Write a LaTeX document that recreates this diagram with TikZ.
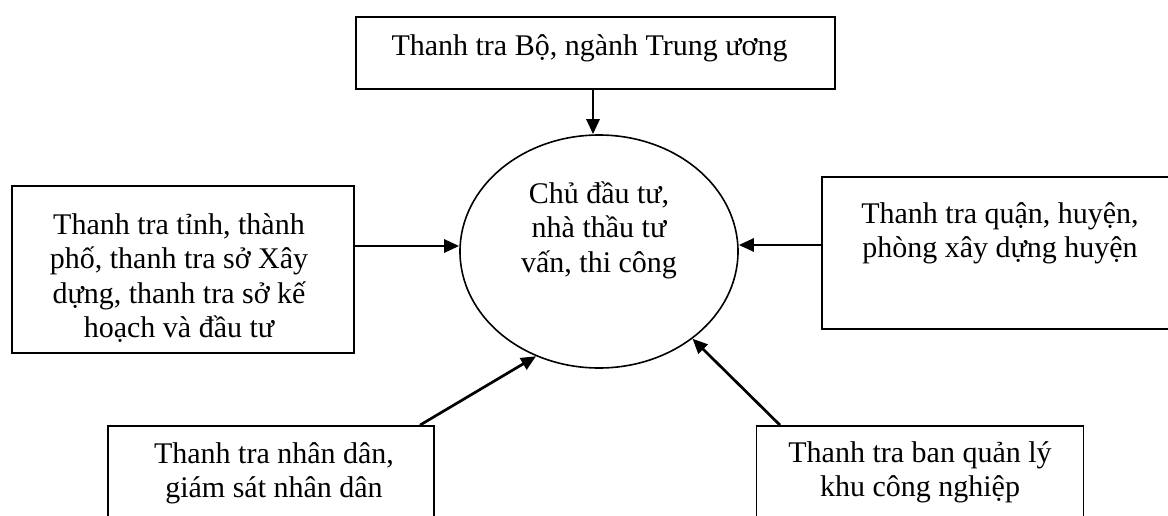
\documentclass[tikz,border=0pt]{standalone}
\usepackage{fontspec}
\setmainfont{Liberation Serif}
\usetikzlibrary{shapes.geometric,arrows.meta}
\newcommand{\stk}[1]{\vtop{\baselineskip=34.5pt\lineskiplimit=-100pt\lineskip=0pt\halign{\hfil##\hfil\cr#1\crcr}}}
\begin{document}
\begin{tikzpicture}[x=1pt,y=-1pt,
  box/.style={draw, line width=1.8pt, rectangle, inner sep=0pt},
  txt/.style={anchor=base, inner sep=0pt, font=\fontsize{30}{34.5}\selectfont},
  arr/.style={line width=2.7pt, -{Triangle[length=15pt,width=13pt]}}]
\useasboundingbox (0,0) rectangle (1168,515);
\clip (0,0) rectangle (1168,515);
\fill[white] (0,0) rectangle (1168,515);

% boxes
\node[box, minimum width=479pt, minimum height=72pt] (T) at (595.5,53) {};
\node[box, minimum width=342pt, minimum height=167pt] (L) at (183,269.5) {};
\node[box, minimum width=354pt, minimum height=152pt] (R) at (999,253) {};
\node[box, minimum width=326pt, minimum height=120pt] (BL) at (271,486) {};
\node[box, minimum width=327pt, minimum height=120pt] (BR) at (920,486) {};
\node[draw, ellipse, line width=1.6pt, minimum width=278pt, minimum height=233pt, inner sep=0pt] (E) at (599,251.5) {};

% texts
\node[txt] (Tt) at (589.5,55) {Thanh tra Bộ, ngành Trung ương};
\node[txt] (Lt) at (179,234) {\stk{Thanh tra tỉnh, thành\cr phố, thanh tra sở Xây\cr dựng, thanh tra sở kế\cr hoạch và đầu tư}};
\node[txt] (Et) at (599,203) {\stk{Chủ đầu tư,\cr nhà thầu tư\cr vấn, thi công}};
\node[txt] (Rt) at (1000,223) {\stk{Thanh tra quận, huyện,\cr phòng xây dựng huyện}};
\node[txt] (BLt) at (274,463) {\stk{Thanh tra nhân dân,\cr giám sát nhân dân}};
\node[txt] (BRt) at (920,462) {\stk{Thanh tra ban quản lý\cr khu công nghiệp}};

% helper coordinates
\coordinate (tx) at (593,0);
\coordinate (lh) at (0,246);
\coordinate (rh) at (0,245);
\coordinate (blx) at (420,0);
\coordinate (brx) at (780,0);

% connectors
\draw[arr] (T.south -| tx) -- (E.north -| tx);
\draw[arr] (L.east |- lh) -- (E.west |- lh);
\draw[arr] (R.west |- rh) -- (E.east |- rh);
\draw[arr] (BL.north -| blx) -- (E.239);
\draw[arr] (BR.north -| brx) -- (E.317);
\end{tikzpicture}
\end{document}
